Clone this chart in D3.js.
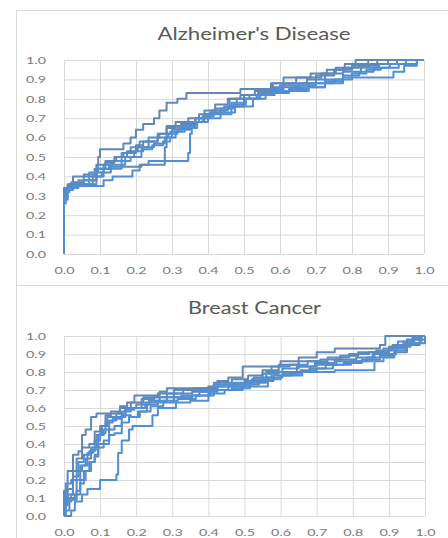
<!DOCTYPE html>
<html lang="en">
<head>
  <meta charset="UTF-8">
  <title>ROC curves</title>
  <style>
    body { margin: 0; background: #fff; }
    svg { display: block; }
  </style>
</head>
<body>
  <svg id="svg" width="448" height="538"></svg>

  <script src="https://d3js.org/d3.v7.min.js"></script>
  <script>
    // tick labels shared by both panels (x and y)
    const tickValues = [0, 0.1, 0.2, 0.3, 0.4, 0.5, 0.6, 0.7, 0.8, 0.9, 1.0]

    // Alzheimer's Disease - [false positive rate, true positive rate]
    const adRun1 = [[0,0],[0,0.33],[0.02,0.36],[0.03,0.40],[0.09,0.40],[0.09,0.44],[0.1,0.50],[0.1,0.54],[0.16,0.54],[0.17,0.57],[0.2,0.60],[0.2,0.64],[0.24,0.67],[0.26,0.70],[0.27,0.74],[0.3,0.78],[0.33,0.80],[0.35,0.83],[0.48,0.83],[0.5,0.85],[0.6,0.85],[0.62,0.88],[0.67,0.91],[0.7,0.93],[0.76,0.95],[0.8,0.98],[0.82,1.0],[1,1]]
    const adRun2 = [[0,0],[0,0.30],[0.01,0.33],[0.04,0.35],[0.1,0.35],[0.12,0.38],[0.15,0.40],[0.18,0.40],[0.2,0.43],[0.22,0.46],[0.25,0.48],[0.34,0.48],[0.35,0.52],[0.35,0.62],[0.36,0.65],[0.38,0.68],[0.42,0.70],[0.45,0.73],[0.5,0.76],[0.55,0.80],[0.57,0.83],[0.6,0.83],[0.65,0.85],[0.7,0.86],[0.75,0.89],[0.8,0.91],[0.9,0.91],[0.93,0.94],[0.96,0.97],[1,1]]
    const adRun3 = [[0,0],[0,0.28],[0.02,0.35],[0.07,0.36],[0.09,0.40],[0.12,0.42],[0.14,0.45],[0.2,0.45],[0.23,0.46],[0.28,0.46],[0.28,0.55],[0.29,0.65],[0.33,0.68],[0.38,0.68],[0.4,0.72],[0.44,0.75],[0.48,0.80],[0.52,0.82],[0.56,0.85],[0.6,0.88],[0.65,0.88],[0.7,0.90],[0.75,0.93],[0.8,0.96],[0.84,0.97],[0.9,1.0],[1,1]]
    const adRun4 = [[0,0],[0,0.32],[0.03,0.35],[0.06,0.35],[0.08,0.38],[0.1,0.42],[0.12,0.46],[0.15,0.48],[0.17,0.52],[0.2,0.55],[0.22,0.58],[0.25,0.60],[0.28,0.62],[0.31,0.63],[0.33,0.65],[0.37,0.68],[0.4,0.71],[0.43,0.73],[0.46,0.76],[0.5,0.80],[0.53,0.82],[0.56,0.84],[0.62,0.84],[0.66,0.86],[0.7,0.88],[0.75,0.90],[0.8,0.94],[0.85,0.96],[0.9,0.98],[0.95,1.0],[1,1]]
    const adRun5 = [[0,0],[0,0.34],[0.04,0.37],[0.07,0.41],[0.1,0.44],[0.13,0.47],[0.15,0.50],[0.18,0.52],[0.2,0.52],[0.2,0.56],[0.24,0.58],[0.28,0.60],[0.3,0.62],[0.33,0.66],[0.36,0.70],[0.39,0.72],[0.43,0.74],[0.48,0.76],[0.52,0.80],[0.56,0.83],[0.6,0.86],[0.63,0.86],[0.68,0.88],[0.72,0.92],[0.78,0.95],[0.82,0.97],[0.88,0.98],[0.92,1.0],[1,1]]
    const adRun6 = [[0,0],[0,0.26],[0.01,0.34],[0.05,0.36],[0.08,0.36],[0.1,0.40],[0.12,0.44],[0.15,0.44],[0.17,0.48],[0.2,0.50],[0.23,0.54],[0.26,0.56],[0.29,0.58],[0.3,0.60],[0.32,0.63],[0.35,0.66],[0.38,0.70],[0.41,0.72],[0.45,0.72],[0.48,0.78],[0.52,0.80],[0.55,0.82],[0.58,0.85],[0.62,0.87],[0.68,0.87],[0.72,0.88],[0.78,0.90],[0.82,0.93],[0.86,0.95],[0.9,0.96],[0.96,0.98],[1,1]]
    const adRun7 = [[0,0],[0,0.33],[0.03,0.36],[0.08,0.38],[0.1,0.46],[0.13,0.48],[0.16,0.50],[0.19,0.53],[0.22,0.55],[0.25,0.58],[0.27,0.62],[0.3,0.66],[0.35,0.67],[0.38,0.70],[0.4,0.74],[0.44,0.77],[0.47,0.80],[0.51,0.82],[0.55,0.84],[0.6,0.88],[0.62,0.91],[0.7,0.91],[0.73,0.93],[0.78,0.96],[0.83,0.98],[0.86,1.0],[1,1]]
    const adRun8 = [[0,0],[0,0.29],[0.02,0.34],[0.06,0.38],[0.08,0.42],[0.11,0.44],[0.14,0.46],[0.16,0.46],[0.18,0.50],[0.21,0.53],[0.23,0.55],[0.27,0.57],[0.29,0.60],[0.31,0.64],[0.34,0.64],[0.36,0.68],[0.39,0.70],[0.42,0.73],[0.45,0.75],[0.49,0.77],[0.52,0.80],[0.57,0.82],[0.6,0.84],[0.66,0.84],[0.7,0.86],[0.75,0.88],[0.8,0.92],[0.84,0.94],[0.88,0.96],[0.93,0.98],[0.97,1.0],[1,1]]

    // Breast Cancer
    const bcRun1 = [[0,0],[0,0.14],[0.02,0.25],[0.03,0.34],[0.05,0.36],[0.05,0.45],[0.07,0.48],[0.08,0.55],[0.1,0.57],[0.15,0.57],[0.16,0.61],[0.19,0.63],[0.2,0.67],[0.26,0.67],[0.27,0.69],[0.3,0.71],[0.42,0.71],[0.43,0.75],[0.48,0.77],[0.51,0.83],[0.58,0.83],[0.62,0.86],[0.68,0.88],[0.72,0.91],[0.78,0.93],[0.86,0.93],[0.89,0.95],[0.89,1.0],[1,1]]
    const bcRun2 = [[0,0],[0.02,0],[0.02,0.03],[0.04,0.08],[0.06,0.12],[0.07,0.15],[0.1,0.15],[0.1,0.20],[0.14,0.20],[0.15,0.23],[0.15,0.35],[0.17,0.42],[0.19,0.48],[0.19,0.50],[0.24,0.50],[0.25,0.56],[0.27,0.60],[0.3,0.60],[0.32,0.63],[0.38,0.64],[0.42,0.68],[0.47,0.70],[0.52,0.72],[0.55,0.72],[0.58,0.76],[0.62,0.78],[0.7,0.80],[0.8,0.81],[0.85,0.81],[0.87,0.86],[0.9,0.88],[0.93,0.92],[0.96,0.96],[1,0.96],[1,1]]
    const bcRun3 = [[0,0],[0,0.05],[0.01,0.10],[0.03,0.12],[0.04,0.20],[0.05,0.28],[0.07,0.32],[0.08,0.38],[0.1,0.45],[0.11,0.50],[0.13,0.55],[0.16,0.57],[0.18,0.60],[0.22,0.62],[0.25,0.64],[0.28,0.66],[0.33,0.68],[0.38,0.69],[0.42,0.72],[0.47,0.73],[0.53,0.75],[0.57,0.79],[0.62,0.80],[0.67,0.83],[0.72,0.85],[0.78,0.87],[0.84,0.88],[0.88,0.91],[0.92,0.94],[0.96,0.97],[0.98,1.0],[1,1]]
    const bcRun4 = [[0,0],[0,0.08],[0.02,0.12],[0.03,0.22],[0.05,0.30],[0.06,0.34],[0.08,0.36],[0.09,0.42],[0.11,0.46],[0.12,0.52],[0.15,0.54],[0.17,0.58],[0.2,0.60],[0.23,0.65],[0.27,0.66],[0.3,0.68],[0.36,0.70],[0.4,0.70],[0.44,0.73],[0.5,0.74],[0.55,0.77],[0.6,0.83],[0.65,0.84],[0.7,0.86],[0.76,0.88],[0.82,0.90],[0.87,0.91],[0.9,0.93],[0.95,0.97],[0.98,0.99],[1,1]]
    const bcRun5 = [[0,0],[0.01,0.03],[0.02,0.10],[0.04,0.12],[0.05,0.18],[0.06,0.25],[0.08,0.30],[0.09,0.33],[0.1,0.40],[0.12,0.42],[0.13,0.48],[0.15,0.50],[0.17,0.56],[0.2,0.55],[0.22,0.58],[0.24,0.62],[0.28,0.63],[0.33,0.66],[0.38,0.67],[0.43,0.70],[0.48,0.72],[0.52,0.73],[0.56,0.75],[0.6,0.78],[0.66,0.80],[0.7,0.82],[0.75,0.84],[0.8,0.85],[0.85,0.87],[0.9,0.89],[0.93,0.91],[0.97,0.95],[1,0.98],[1,1]]
    const bcRun6 = [[0,0],[0,0.10],[0.01,0.18],[0.03,0.20],[0.04,0.25],[0.06,0.28],[0.07,0.35],[0.09,0.37],[0.1,0.45],[0.12,0.48],[0.13,0.53],[0.16,0.55],[0.18,0.59],[0.21,0.60],[0.24,0.63],[0.27,0.64],[0.3,0.66],[0.35,0.67],[0.4,0.69],[0.45,0.72],[0.5,0.73],[0.54,0.76],[0.58,0.80],[0.63,0.82],[0.67,0.83],[0.73,0.84],[0.78,0.86],[0.83,0.86],[0.88,0.90],[0.92,0.93],[0.96,0.95],[0.98,0.98],[1,1]]
    const bcRun7 = [[0,0],[0,0.06],[0.02,0.15],[0.03,0.25],[0.04,0.32],[0.06,0.38],[0.08,0.40],[0.09,0.47],[0.11,0.50],[0.12,0.56],[0.14,0.58],[0.17,0.60],[0.2,0.63],[0.24,0.66],[0.28,0.68],[0.33,0.70],[0.39,0.71],[0.44,0.74],[0.49,0.76],[0.53,0.78],[0.57,0.81],[0.62,0.84],[0.68,0.86],[0.74,0.87],[0.79,0.89],[0.84,0.91],[0.89,0.92],[0.93,0.95],[0.97,0.98],[1,1]]
    const bcRun8 = [[0,0],[0,0.03],[0.01,0.08],[0.03,0.09],[0.04,0.14],[0.05,0.20],[0.07,0.25],[0.08,0.30],[0.09,0.34],[0.1,0.38],[0.12,0.40],[0.13,0.45],[0.15,0.46],[0.17,0.52],[0.19,0.55],[0.22,0.58],[0.26,0.61],[0.29,0.64],[0.34,0.65],[0.39,0.67],[0.44,0.70],[0.49,0.71],[0.54,0.74],[0.58,0.77],[0.63,0.79],[0.68,0.81],[0.72,0.82],[0.77,0.84],[0.82,0.86],[0.86,0.88],[0.9,0.90],[0.94,0.94],[0.98,0.96],[1,1]]

    const adSeries = [adRun1, adRun2, adRun3, adRun4, adRun5, adRun6, adRun7, adRun8]
    const bcSeries = [bcRun1, bcRun2, bcRun3, bcRun4, bcRun5, bcRun6, bcRun7, bcRun8]

    const svg = d3.select('#svg')

    function drawPanel(opts) {
      const { title, series, box, plot, titleY, titleWidth, xLabelY } = opts

      // chart frame (light grey like an Excel chart area)
      svg.append('rect')
        .attr('x', box.x + 0.5)
        .attr('y', box.y + 0.5)
        .attr('width', box.w)
        .attr('height', box.h)
        .attr('fill', '#fff')
        .attr('stroke', '#d9d9d9')

      const xscale = d3.scaleLinear().domain([0, 1]).range([plot.left, plot.right])
      const yscale = d3.scaleLinear().domain([0, 1]).range([plot.bottom, plot.top])

      // gridlines
      const gridX = d3.axisBottom(xscale)
        .tickValues(tickValues)
        .tickSize(-(plot.bottom - plot.top))
        .tickFormat('')
      svg.append('g')
        .attr('transform', `translate(0, ${plot.bottom})`)
        .call(gridX)
        .call(g => g.select('.domain').remove())
        .call(g => g.selectAll('line').attr('stroke', '#d9d9d9'))

      const gridY = d3.axisLeft(yscale)
        .tickValues(tickValues)
        .tickSize(-(plot.right - plot.left))
        .tickFormat('')
      svg.append('g')
        .attr('transform', `translate(${plot.left}, 0)`)
        .call(gridY)
        .call(g => g.select('.domain').remove())
        .call(g => g.selectAll('line').attr('stroke', '#d9d9d9'))

      // tick labels
      const leftAxis = d3.axisLeft(yscale)
        .tickValues(tickValues)
        .tickSize(0)
        .tickPadding(18)
        .tickFormat(d3.format('.1f'))
      svg.append('g')
        .attr('transform', `translate(${plot.left}, 0)`)
        .call(leftAxis)
        .call(g => g.select('.domain').remove())
        .call(g => g.selectAll('text')
          .attr('fill', '#7a7a7a')
          .attr('font-family', 'Lato, sans-serif')
          .attr('font-size', 10)
          .attr('textLength', 20)
          .attr('lengthAdjust', 'spacingAndGlyphs'))

      const bottomAxis = d3.axisBottom(xscale)
        .tickValues(tickValues)
        .tickSize(0)
        .tickFormat(d3.format('.1f'))
      svg.append('g')
        .attr('transform', `translate(0, ${plot.bottom})`)
        .call(bottomAxis)
        .call(g => g.select('.domain').remove())
        .call(g => g.selectAll('text')
          .attr('y', xLabelY - plot.bottom)
          .attr('dy', 0)
          .attr('fill', '#7a7a7a')
          .attr('font-family', 'Lato, sans-serif')
          .attr('font-size', 10)
          .attr('textLength', 20)
          .attr('lengthAdjust', 'spacingAndGlyphs'))

      // title
      svg.append('text')
        .attr('x', (plot.left + plot.right) / 2 + 10)
        .attr('y', titleY)
        .attr('text-anchor', 'middle')
        .attr('fill', '#595959')
        .attr('font-family', 'Lato, sans-serif')
        .attr('font-size', 18)
        .attr('textLength', titleWidth)
        .attr('lengthAdjust', 'spacingAndGlyphs')
        .text(title)

      // the runs, drawn as staircases like ROC steps
      const line = d3.line()
        .x(d => xscale(d[0]))
        .y(d => yscale(d[1]))
        .curve(d3.curveStep)

      svg.append('g')
        .selectAll('path')
        .data(series)
        .enter()
        .append('path')
        .attr('d', line)
        .attr('fill', 'none')
        .attr('stroke', (d, i) => i % 2 ? '#4f8fd6' : '#5f88b8')
        .attr('stroke-width', 2)
        .attr('stroke-linejoin', 'round')
    }

    drawPanel({
      title: "Alzheimer's Disease",
      series: adSeries,
      box: { x: 16, y: 10, w: 440, h: 275 },
      plot: { left: 64, right: 424, top: 60, bottom: 254 },
      titleY: 40,
      titleWidth: 193,
      xLabelY: 274
    })

    drawPanel({
      title: 'Breast Cancer',
      series: bcSeries,
      box: { x: 16, y: 285, w: 440, h: 260 },
      plot: { left: 64, right: 425, top: 336, bottom: 516 },
      titleY: 314,
      titleWidth: 133,
      xLabelY: 536
    })
  </script>
</body>
</html>
